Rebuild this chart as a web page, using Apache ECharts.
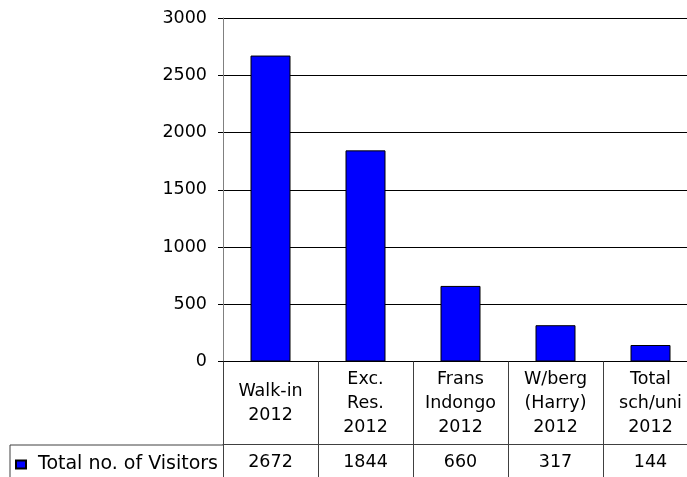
<!DOCTYPE html>
<html>
<head>
<meta charset="utf-8">
<script src="https://cdn.jsdelivr.net/npm/echarts@6/dist/echarts.min.js"></script>
<style>
  html, body { margin: 0; padding: 0; background: #fff; }
  #main { width: 687px; height: 477px; }
</style>
</head>
<body>
<div id="main"></div>
<script>
  // chart data
  const categories = ['Walk-in\n2012', 'Exc.\nRes.\n2012', 'Frans\nIndongo\n2012', 'W/berg\n(Harry)\n2012', 'Total\nsch/uni\n2012'];
  const visitors = [2672, 1844, 660, 317, 144];
  const seriesName = 'Total no. of Visitors';
  const yMin = 0, yMax = 3000, yStep = 500;

  const font = 'DejaVu Sans';
  const lineCol = '#404040';

  var myChart = echarts.init(document.getElementById('main'));
  var option = {
    animation: false,
    backgroundColor: '#fff',
    grid: {
      left: 223,
      top: 18,
      width: 475,
      bottom: 115.5,
      outerBoundsMode: 'none',
      containLabel: false
    },
    legend: {
      data: [seriesName],
      left: 10,
      top: 450,
      padding: 5,
      icon: 'rect',
      itemWidth: 10,
      itemHeight: 8,
      textStyle: {
        fontFamily: font,
        fontSize: 19,
        color: '#000',
        padding: [0, 0, 0, 7]
      }
    },
    graphic: [
      {
        type: 'polyline',
        shape: { points: [[10, 480], [10, 445], [223, 445]] },
        style: { stroke: lineCol, lineWidth: 1, fill: null },
        silent: true
      }
    ],
    xAxis: [
      {
        type: 'category',
        data: categories,
        position: 'bottom',
        axisLine: { show: true, lineStyle: { color: '#000', width: 1 } },
        axisTick: { show: true, length: 83, lineStyle: { color: lineCol } },
        axisLabel: {
          interval: 0,
          margin: 42,
          verticalAlign: 'middle',
          fontFamily: font,
          fontSize: 17.5,
          lineHeight: 24,
          color: '#000'
        },
        splitLine: { show: false }
      },
      {
        type: 'category',
        data: visitors.map(String),
        position: 'bottom',
        offset: 83,
        axisLine: { show: true, lineStyle: { color: lineCol, width: 1 } },
        axisTick: { show: true, length: 40, lineStyle: { color: lineCol } },
        axisLabel: {
          interval: 0,
          margin: 18,
          verticalAlign: 'middle',
          fontFamily: font,
          fontSize: 17.5,
          color: '#000'
        },
        splitLine: { show: false }
      }
    ],
    yAxis: {
      type: 'value',
      min: yMin,
      max: yMax,
      interval: yStep,
      axisLine: { show: true, lineStyle: { color: '#808080' } },
      axisTick: { show: true, length: 5, lineStyle: { color: '#000' } },
      axisLabel: {
        margin: 16,
        fontFamily: font,
        fontSize: 17.5,
        color: '#000',
        formatter: function (v) { return String(v); }
      },
      splitLine: { show: true, lineStyle: { color: '#000', width: 1, type: 'solid' } }
    },
    series: [
      {
        name: seriesName,
        type: 'bar',
        xAxisIndex: 0,
        data: visitors,
        barWidth: 40,
        itemStyle: {
          color: '#0000ff',
          borderColor: '#000',
          borderWidth: 1
        }
      }
    ]
  };
  myChart.setOption(option);
</script>
</body>
</html>
